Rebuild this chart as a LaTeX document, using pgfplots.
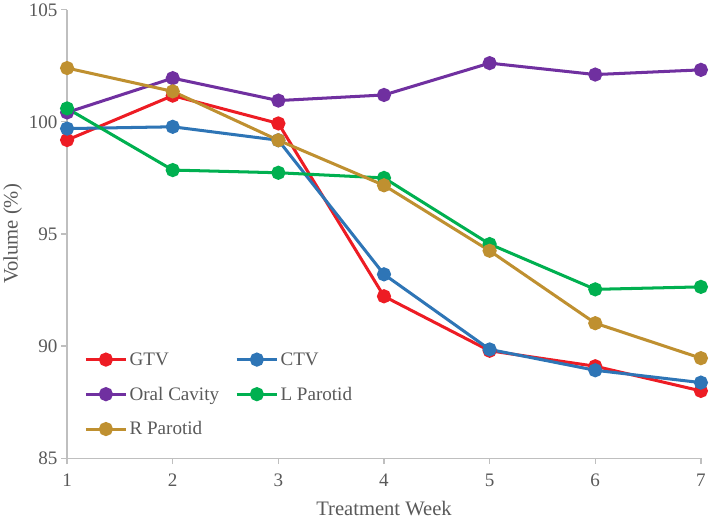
\documentclass[border=0pt]{standalone}
\usepackage{fontspec}
\setmainfont{Liberation Serif}
\usepackage{pgfplots}
\pgfplotsset{compat=1.18}
\definecolor{txtgray}{RGB}{89,89,89}
\definecolor{axgray}{RGB}{191,191,191}
\definecolor{cgtv}{RGB}{237,28,36}
\definecolor{cctv}{RGB}{46,117,182}
\definecolor{coral}{RGB}{112,48,160}
\definecolor{clpar}{RGB}{0,176,80}
\definecolor{crpar}{RGB}{191,144,48}
\begin{document}
\begin{tikzpicture}
\begin{axis}[
    scale only axis,
    width=629bp, height=445bp,
    xmin=1, xmax=7, ymin=85, ymax=105,
    xtick={1,...,7}, ytick={85,90,...,105},
    axis x line*=bottom, axis y line*=left,
    axis line style={axgray, line width=1.2bp},
    tick style={axgray, line width=1.2bp},
    tick align=outside, major tick length=6bp,
    font=\fontsize{19}{22}\selectfont,
    ticklabel style={txtgray},
    xticklabel style={yshift=-6bp},
    /pgf/number format/assume math mode=true,
    xlabel={Treatment Week}, ylabel={Volume (\%)},
    label style={txtgray, font=\fontsize{20.5}{24}\selectfont},
    xlabel style={yshift=-8bp},
    every axis plot/.append style={line width=3bp, mark=*, mark size=5.5bp},
    legend columns=2,
    legend cell align=left,
    legend style={draw=none, fill=none, at={(0.022,0.245)}, anchor=north west,
        text=txtgray, font=\fontsize{19}{22}\selectfont,
        row sep=16bp, /tikz/every even column/.append style={column sep=14bp}},
    legend image code/.code={
        \draw[#1] (0bp,0bp) -- (40bp,0bp);
        \draw[#1,mark=*] plot coordinates {(20bp,0bp)};
    },
]
\addplot[cgtv, mark options={fill=cgtv}] coordinates {
(1,99.19) (2,101.17) (3,99.93) (4,92.22) (5,89.79) (6,89.10) (7,88.00)};
\addlegendentry{GTV}
\addplot[cctv, mark options={fill=cctv}] coordinates {
(1,99.70) (2,99.78) (3,99.18) (4,93.20) (5,89.85) (6,88.92) (7,88.37)};
\addlegendentry{CTV}
\addplot[coral, mark options={fill=coral}] coordinates {
(1,100.42) (2,101.95) (3,100.95) (4,101.20) (5,102.62) (6,102.11) (7,102.32)};
\addlegendentry{Oral Cavity}
\addplot[clpar, mark options={fill=clpar}] coordinates {
(1,100.60) (2,97.85) (3,97.73) (4,97.50) (5,94.55) (6,92.53) (7,92.64)};
\addlegendentry{L Parotid}
\addplot[crpar, mark options={fill=crpar}] coordinates {
(1,102.40) (2,101.36) (3,99.18) (4,97.17) (5,94.25) (6,91.02) (7,89.46)};
\addlegendentry{R Parotid}
\end{axis}
\end{tikzpicture}
\end{document}
